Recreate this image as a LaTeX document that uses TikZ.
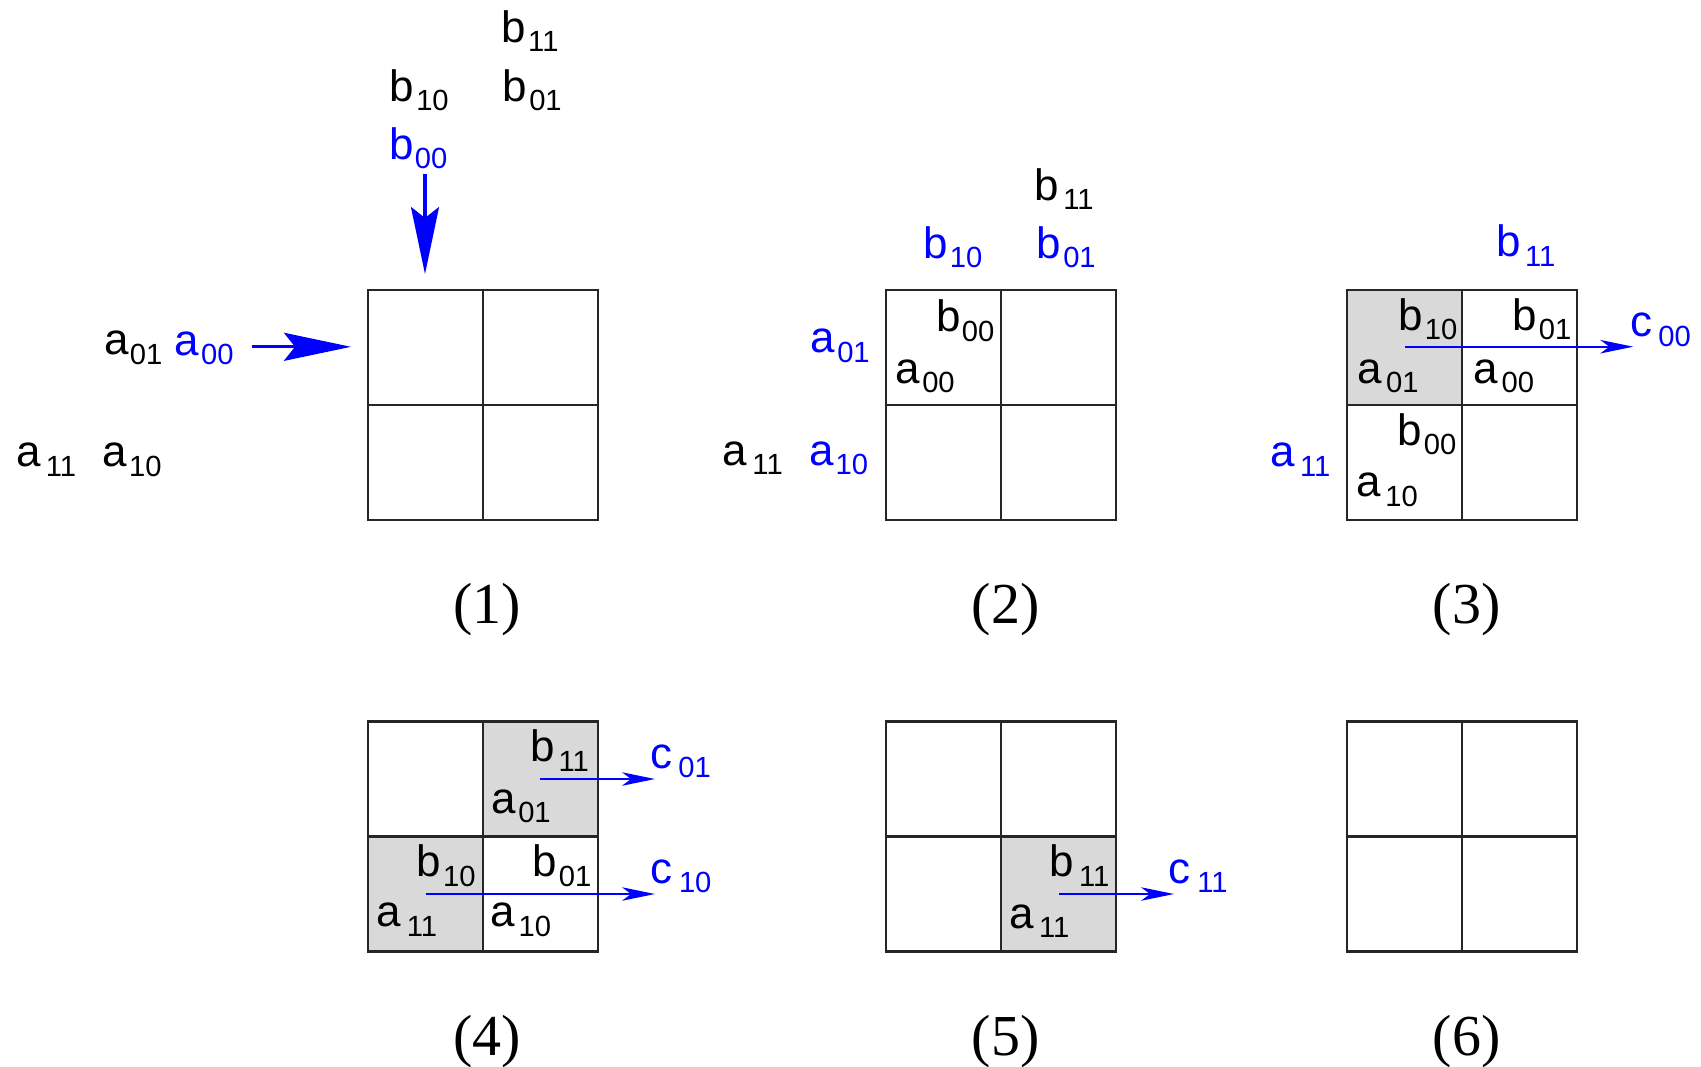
\documentclass[tikz,border=0pt]{standalone}
\usepackage{fontspec}
\setmainfont{Liberation Serif}
\setsansfont{Liberation Sans}
\usetikzlibrary{arrows.meta}
\usepackage{xcolor}

% label with lowered index
\newcommand{\sublbl}[3][0.6pt]{#2\kern#1\raisebox{-2.7pt}{\fontsize{8.3}{9}\selectfont #3}}

\tikzset{
  lbl/.style={font=\sffamily\fontsize{12.5}{15}\selectfont, inner sep=0pt, anchor=base west},
  captxt/.style={font=\fontsize{16.5}{19}\selectfont, inner sep=0pt, anchor=base},
  cell/.style={draw=black!85, line width=0.6pt},
  graycell/.style={fill=black!15},
  bigarr/.style={blue, line width=0.9pt, -{Stealth[length=6.7mm, width=2.8mm, inset=1.1mm]}},
  smallarr/.style={blue, line width=0.5pt, -{Stealth[length=3.3mm, width=1.35mm, inset=0.9mm]}}
}

\begin{document}
\begin{tikzpicture}[x=0.1mm, y=-0.1mm]
\useasboundingbox (0,0) rectangle (1701,1066);

% shaded cells
\fill[graycell] (1346.7,289.6) rectangle ++(115,115);
\fill[graycell] (482.7,721.5) rectangle ++(115,115);
\fill[graycell] (367.7,836.5) rectangle ++(115,115);
\fill[graycell] (1001.3,836.5) rectangle ++(115,115);

% 2x2 grids
\foreach \gx/\gy in {367.7/289.6, 886.3/289.6, 1346.7/289.6, 367.7/721.5, 886.3/721.5, 1346.7/721.5} {
  \draw[cell] (\gx,\gy) rectangle ++(230,230);
  \draw[cell] (\gx+115,\gy) -- ++(0,230);
  \draw[cell] (\gx,\gy+115) -- ++(230,0);
}

% (1)
\node[lbl] (p1b11) at (501,42) {\sublbl{b}{11}};
\node[lbl] (p1b10) at (389,101) {\sublbl{b}{10}};
\node[lbl] (p1b01) at (502,101) {\sublbl{b}{01}};
\node[lbl, blue] (p1b00) at (389,159) {\sublbl[0.2pt]{b}{00}};
\node[lbl] (p1a01) at (103.6,354.7) {\sublbl[0.3pt]{a}{01}};
\node[lbl, blue] (p1a00) at (174,355) {\sublbl{a}{00}};
\node[lbl] (p1a11) at (15.8,466.6) {\sublbl[1.4pt]{a}{11}};
\node[lbl] (p1a10) at (102,466.6) {\sublbl{a}{10}};
\coordinate (p1dnA) at (425,174);
\coordinate (p1dnB) at (425,274);
\coordinate (p1rtA) at (252,346.8);
\coordinate (p1rtB) at (351,346.8);
\draw[bigarr] (p1dnA) -- (p1dnB);
\draw[bigarr] (p1rtA) -- (p1rtB);

% (2)
\node[lbl] (p2b11) at (1034,200) {\sublbl[1.2pt]{b}{11}};
\node[lbl, blue] (p2b10) at (922.7,258.3) {\sublbl{b}{10}};
\node[lbl, blue] (p2b01) at (1036,258.3) {\sublbl{b}{01}};
\node[lbl, blue] (p2a01) at (810,352.7) {\sublbl{a}{01}};
\node[lbl] (p2b00) at (935.3,331.7) {\sublbl[0.4pt]{b}{00}};
\node[lbl] (p2a00) at (895,383.3) {\sublbl{a}{00}};
\node[lbl] (p2a11) at (721.7,465) {\sublbl[1.6pt]{a}{11}};
\node[lbl, blue] (p2a10) at (808.3,465) {\sublbl{a}{10}};

% (3)
\node[lbl, blue] (p3b11) at (1495.7,256.7) {\sublbl[1.2pt]{b}{11}};
\node[lbl] (p3b10) at (1397.7,330) {\sublbl{b}{10}};
\node[lbl] (p3b01) at (1511.7,330) {\sublbl{b}{01}};
\node[lbl] (p3a01) at (1356.7,383.3) {\sublbl[1.2pt]{a}{01}};
\node[lbl] (p3a00) at (1472.3,383.3) {\sublbl[1.2pt]{a}{00}};
\node[lbl] (p3b00) at (1396.7,445) {\sublbl{b}{00}};
\node[lbl] (p3a10) at (1356,496.7) {\sublbl[1.2pt]{a}{10}};
\node[lbl, blue] (p3a11) at (1269.3,466.7) {\sublbl[1.6pt]{a}{11}};
\node[lbl, blue] (p3c00) at (1629.3,336.7) {\sublbl[1.8pt]{c}{00}};
\coordinate (p3arA) at (1405,346.7);
\coordinate (p3arB) at (1633.3,346.7);
\draw[smallarr] (p3arA) -- (p3arB);

% (4)
\node[lbl] (p4b11) at (530,761.7) {\sublbl[1pt]{b}{11}};
\node[lbl] (p4a01) at (491,813.3) {\sublbl{a}{01}};
\node[lbl, blue] (p4c01) at (650,768.3) {\sublbl[1.6pt]{c}{01}};
\node[lbl] (p4b10) at (416,876.7) {\sublbl{b}{10}};
\node[lbl] (p4b01) at (531.7,876.7) {\sublbl{b}{01}};
\node[lbl] (p4a11) at (376,926.7) {\sublbl[1.6pt]{a}{11}};
\node[lbl] (p4a10) at (490,926.7) {\sublbl[1pt]{a}{10}};
\node[lbl, blue] (p4c10) at (650,883.3) {\sublbl[1.8pt]{c}{10}};
\coordinate (p4arA) at (540,779);
\coordinate (p4arB) at (655,779);
\coordinate (p4arC) at (425.7,894);
\coordinate (p4arD) at (655,894);
\draw[smallarr] (p4arA) -- (p4arB);
\draw[smallarr] (p4arC) -- (p4arD);

% (5)
\node[lbl] (p5b11) at (1048.3,876.7) {\sublbl[1.6pt]{b}{11}};
\node[lbl] (p5a11) at (1008.3,928.3) {\sublbl[1.6pt]{a}{11}};
\node[lbl, blue] (p5c11) at (1167.7,883.3) {\sublbl[2pt]{c}{11}};
\coordinate (p5arA) at (1059,894);
\coordinate (p5arB) at (1174,894);
\draw[smallarr] (p5arA) -- (p5arB);

% captions
\node[captxt] (cap1) at (487,623.8) {(1)};
\node[captxt] (cap2) at (1005.6,623.8) {(2)};
\node[captxt] (cap3) at (1466.7,623.8) {(3)};
\node[captxt] (cap4) at (487,1055.6) {(4)};
\node[captxt] (cap5) at (1005.6,1055.6) {(5)};
\node[captxt] (cap6) at (1466.7,1055.6) {(6)};

\end{tikzpicture}
\end{document}
